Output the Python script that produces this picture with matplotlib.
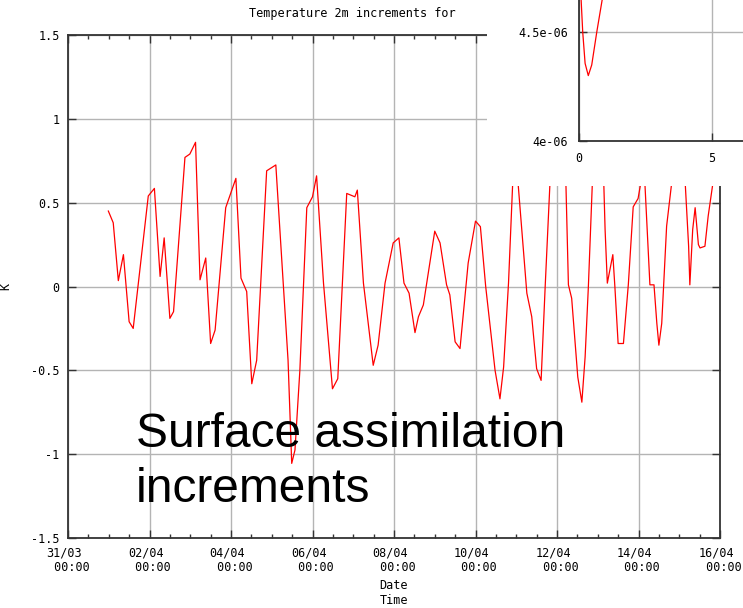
import numpy as np
import matplotlib
matplotlib.use("Agg")
import matplotlib.pyplot as plt
from matplotlib.patches import Rectangle

# ---- data ----
# time in days since 31/03 00:00
days = [0.99, 1.11, 1.235, 1.36, 1.50, 1.60, 1.97, 2.12, 2.26, 2.36, 2.50, 2.59,
        2.87, 2.99, 3.13, 3.24, 3.38, 3.50, 3.61, 3.87, 4.12, 4.245, 4.385, 4.51,
        4.63, 4.875, 5.10, 5.40, 5.49, 5.57, 5.69, 5.86, 6.0, 6.10, 6.27, 6.49,
        6.62, 6.84, 7.04, 7.10, 7.25, 7.49, 7.61, 7.78, 7.98, 8.12, 8.245, 8.37,
        8.515, 8.60, 8.72, 9.0, 9.13, 9.29, 9.37, 9.50, 9.62, 9.82, 10.0, 10.12,
        10.25, 10.48, 10.60, 10.69, 10.81, 10.97, 11.05, 11.26, 11.38, 11.50, 11.61,
        11.71, 11.9, 12.15, 12.22, 12.28, 12.36, 12.51, 12.61, 12.69, 12.77, 12.92,
        13.08, 13.15, 13.18, 13.235, 13.37, 13.42, 13.50, 13.63, 13.75, 13.87, 13.99,
        14.1, 14.16, 14.28, 14.38, 14.45, 14.50, 14.57, 14.69, 14.95, 15.1, 15.15,
        15.23, 15.26, 15.33, 15.39, 15.47, 15.51, 15.63, 15.71, 15.875]
values = [0.45, 0.38, 0.035, 0.19, -0.21, -0.25, 0.54, 0.585, 0.06, 0.29, -0.19, -0.15,
          0.77, 0.79, 0.86, 0.04, 0.17, -0.34, -0.26, 0.47, 0.645, 0.05, -0.03, -0.58,
          -0.44, 0.69, 0.725, -0.44, -1.055, -0.975, -0.5, 0.47, 0.535, 0.66, 0.02, -0.61,
          -0.55, 0.555, 0.535, 0.575, 0.02, -0.47, -0.35, 0.02, 0.26, 0.29, 0.02, -0.04,
          -0.275, -0.18, -0.11, 0.33, 0.26, 0.01, -0.05, -0.33, -0.37, 0.14, 0.39, 0.357,
          0.0, -0.5, -0.67, -0.48, 0.02, 0.95, 0.6, -0.04, -0.18, -0.49, -0.56,
          0.0, 1.0, 0.95, 0.6, 0.01, -0.07, -0.54, -0.69, -0.42, 0.0, 0.95,
          0.9, 0.6, 0.34, 0.02, 0.19, 0.0, -0.34, -0.34, 0.01, 0.475, 0.525,
          0.68, 0.6, 0.01, 0.01, -0.22, -0.35, -0.22, 0.36, 0.9, 0.85, 0.6,
          0.24, 0.01, 0.34, 0.47, 0.25, 0.23, 0.24, 0.42, 0.7]

xtick_pos = [0, 2, 4, 6, 8, 10, 12, 14, 16]
xtick_labels = ["31/03\n 00:00", "02/04\n 00:00", "04/04\n 00:00", "06/04\n 00:00",
                "08/04\n 00:00", "10/04\n 00:00", "12/04\n 00:00", "14/04\n 00:00",
                "16/04\n 00:00"]
ytick_pos = [-1.5, -1, -0.5, 0, 0.5, 1, 1.5]
ytick_labels = ["-1.5", "-1", "-0.5", "0", "0.5", "1", "1.5"]

inset_x = [0.075, 0.14, 0.23, 0.35, 0.48, 0.67, 0.89]
inset_y = [4.66e-6, 4.5e-6, 4.356e-6, 4.30e-6, 4.349e-6, 4.5e-6, 4.66e-6]
inset_xticks = [0, 5]
inset_yticks = [4e-6, 4.5e-6]
inset_yticklabels = ["4e-06", "4.5e-06"]

W, H = 743, 608
mono = "DejaVu Sans Mono"
fs = 8.5
grid_c = "#b4b4b4"
spine_c = "#333333"

fig = plt.figure(figsize=(W / 100, H / 100), dpi=100)

# ---- main axes ----
ax = fig.add_axes([68 / W, (H - 538) / H, (720 - 68) / W, (538 - 35) / H])
ax.plot(days, values, color="#ff0000", lw=0.9)
ax.set_xlim(0, 16)
ax.set_ylim(-1.5, 1.5)
ax.set_xticks(xtick_pos)
ax.set_xticklabels(xtick_labels, fontfamily=mono, fontsize=fs, multialignment="left")
ax.set_xticks(np.arange(0, 16.01, 0.5), minor=True)
ax.set_yticks(ytick_pos)
ax.set_yticklabels(ytick_labels, fontfamily=mono, fontsize=fs)
ax.grid(True, which="major", color=grid_c, lw=1.0)
ax.tick_params(which="major", direction="in", top=True, right=True, length=6,
               width=1.0, color=spine_c, pad=6)
ax.tick_params(which="minor", direction="in", top=True, right=False, left=False,
               length=3, width=1.0, color=spine_c)
for s in ax.spines.values():
    s.set_color(spine_c)
    s.set_linewidth(1.3)
ax.set_ylabel("K", fontfamily=mono, fontsize=fs)
ax.yaxis.set_label_coords((12 - 68) / (720 - 68), 0.5)
ax.set_xlabel("Date\nTime", fontfamily=mono, fontsize=fs, multialignment="left")
ax.xaxis.set_label_coords(0.5, -(593 - 538) / (538 - 35))
ax.xaxis.label.set_va("center")

fig.text(249 / W, 1 - 13 / H, "Temperature 2m increments for", fontfamily=mono,
         fontsize=fs, ha="left", va="center")

# ---- white box behind inset ----
fig.add_artist(Rectangle((487 / W, 1 - 186 / H), 1 - 487 / W, 186 / H,
                         transform=fig.transFigure, facecolor="white",
                         edgecolor="none", zorder=1))

# ---- inset axes ----
px_per_unit = (711.7 - 579) / 5
ax2 = fig.add_axes([579 / W, (H - 141) / H, (W - 579) / W, 141 / H])
ax2.set_zorder(2)
ax2.plot(inset_x, inset_y, color="#ff0000", lw=0.9)
ax2.set_xlim(0, (W - 579) / px_per_unit)
ax2.set_ylim(4e-6, 4e-6 + 141 / 218 * 1e-6)
ax2.set_xticks(inset_xticks)
ax2.set_xticklabels([str(v) for v in inset_xticks], fontfamily=mono, fontsize=fs)
ax2.set_yticks(inset_yticks)
ax2.set_yticklabels(inset_yticklabels, fontfamily=mono, fontsize=fs)
ax2.grid(True, color=grid_c, lw=1.0)
ax2.tick_params(direction="in", length=6, width=1.0, color=spine_c, pad=8)
ax2.spines["top"].set_visible(False)
ax2.spines["right"].set_visible(False)
for s in ("left", "bottom"):
    ax2.spines[s].set_color(spine_c)
    ax2.spines[s].set_linewidth(1.3)

# ---- overlay text ----
fig.text(136 / W, 1 - 412 / H, "Surface assimilation\nincrements",
         fontfamily="Liberation Sans", fontsize=34.5, ha="left", va="top",
         linespacing=1.3, zorder=5)

fig.savefig("out.png", dpi=100)
